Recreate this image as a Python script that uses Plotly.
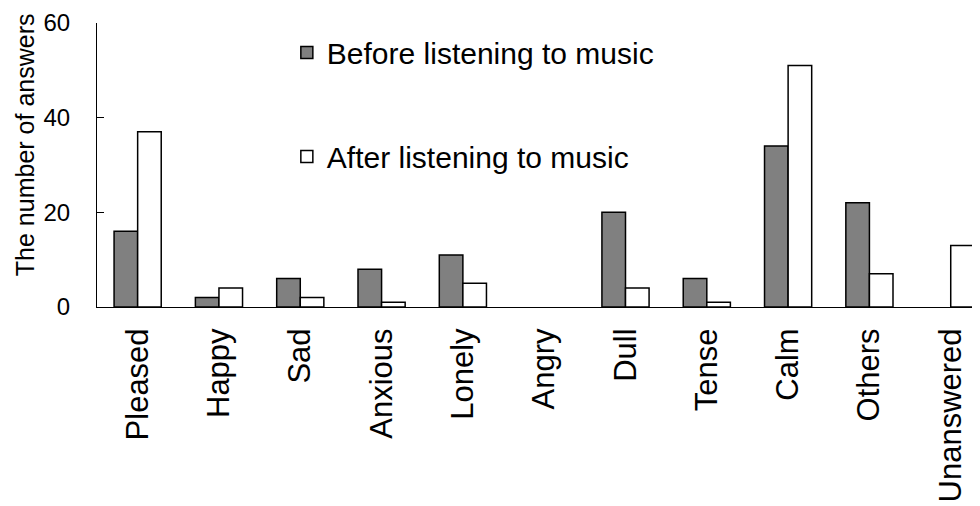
import plotly.graph_objects as go

categories = ["Pleased", "Happy", "Sad", "Anxious", "Lonely", "Angry",
              "Dull", "Tense", "Calm", "Others", "Unanswered"]
before = [16, 2, 6, 8, 11, 0, 20, 6, 34, 22, 0]
after = [37, 4, 2, 1, 5, 0, 4, 1, 51, 7, 13]
y_ticks = [0, 20, 40, 60]

FONT = "Liberation Sans, Arial, sans-serif"

# outline only on bars that have height (zero bars are not drawn in the reference)
before_lw = [1.5 if v > 0 else 0 for v in before]
after_lw = [1.5 if v > 0 else 0 for v in after]

fig = go.Figure()
fig.add_trace(go.Bar(
    x=categories, y=before, name="Before listening to music",
    marker=dict(color="#808080", line=dict(color="black", width=before_lw)),
    legendgroup="b",
))
fig.add_trace(go.Bar(
    x=categories, y=after, name="After listening to music",
    marker=dict(color="white", line=dict(color="black", width=after_lw)),
    legendgroup="a",
))

fig.update_layout(
    width=972, height=498,
    margin=dict(l=89, r=0, t=15, b=199, autoexpand=False),
    plot_bgcolor="white", paper_bgcolor="white",
    barmode="group", bargap=0.42, bargroupgap=0,
    font=dict(family=FONT, color="black"),
    showlegend=True,
    legend=dict(
        x=0.215, y=0.988, xanchor="left", yanchor="top",
        font=dict(size=30, family=FONT),
        tracegroupgap=62, bgcolor="rgba(0,0,0,0)",
        itemwidth=30,
    ),
    xaxis=dict(
        type="category", categoryorder="array", categoryarray=categories,
        range=[-0.5, 10.36],
        showline=True, linecolor="black", linewidth=1,
        ticks="", tickangle=-90, tickfont=dict(size=31),
        ticklabelstandoff=8,
        showgrid=False, zeroline=False,
    ),
    yaxis=dict(
        range=[0, 60], tickvals=y_ticks,
        showline=True, linecolor="black", linewidth=1,
        ticks="inside", ticklen=7, tickcolor="black",
        tickfont=dict(size=24), ticklabelstandoff=21,
        showgrid=False, zeroline=False,
    ),
    annotations=[dict(
        text="The number of answers", textangle=-90,
        xref="paper", yref="paper", x=-0.0815, y=0.57,
        xanchor="center", yanchor="middle", showarrow=False,
        font=dict(size=25, family=FONT),
    )],
)

fig.write_html("out.html")
